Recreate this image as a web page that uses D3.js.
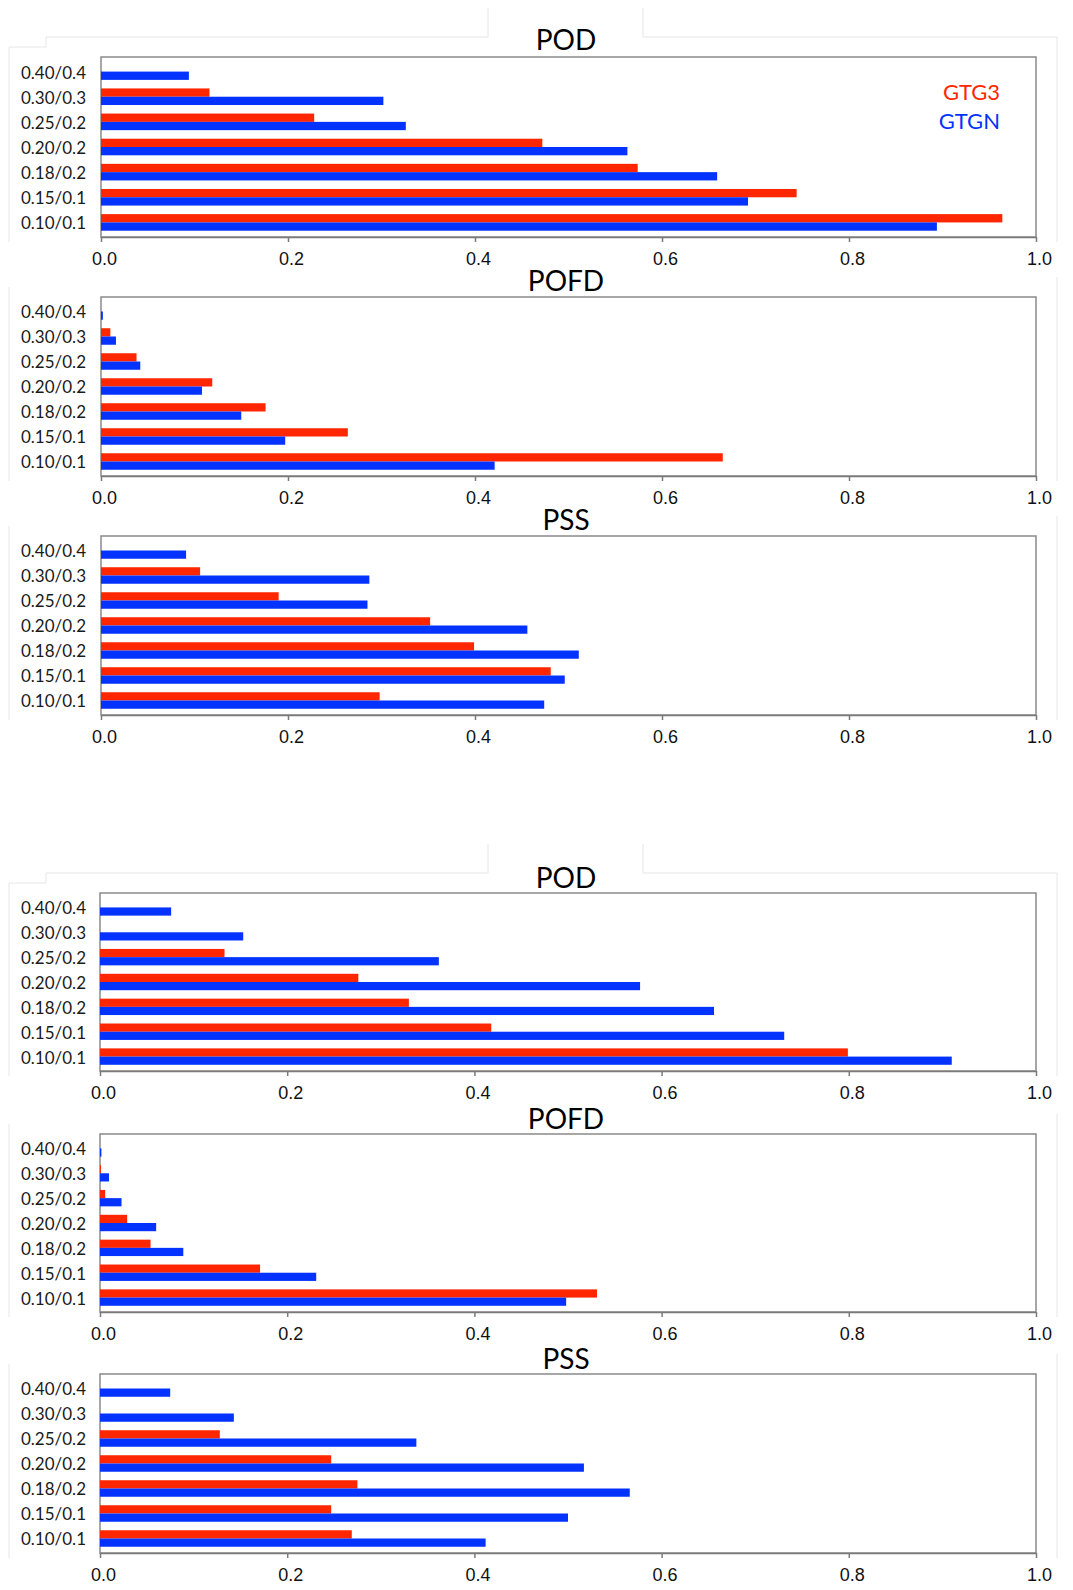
<!DOCTYPE html>
<html>
<head>
<meta charset="utf-8">
<script src="https://cdn.jsdelivr.net/npm/d3@7"></script>
<style>
  body { margin: 0; background: #fff; }
  svg { display: block; font-family: Lato, "Open Sans", sans-serif; }
  .axis path, .axis line { stroke: #7a7a7a; stroke-width: 1.5; }
  .axis text { font-size: 18px; fill: #111; }
</style>
</head>
<body>
<div id="chart"></div>
<script>
// categories top -> bottom
var categories = ["0.40/0.4", "0.30/0.3", "0.25/0.2", "0.20/0.2", "0.18/0.2", "0.15/0.1", "0.10/0.1"];
var tickValues = [0.0, 0.2, 0.4, 0.6, 0.8, 1.0];
var seriesNames = ["GTG3", "GTGN"];

// top group
var podG3A  = [0, 0.116, 0.228, 0.472, 0.574, 0.744, 0.964];
var podGNA  = [0.094, 0.302, 0.326, 0.563, 0.659, 0.692, 0.894];
var pofdG3A = [0, 0.010, 0.038, 0.119, 0.176, 0.264, 0.665];
var pofdGNA = [0.002, 0.016, 0.042, 0.108, 0.150, 0.197, 0.421];
var pssG3A  = [0, 0.106, 0.190, 0.352, 0.399, 0.481, 0.298];
var pssGNA  = [0.091, 0.287, 0.285, 0.456, 0.511, 0.496, 0.474];

// bottom group
var podG3B  = [0, 0, 0.133, 0.276, 0.330, 0.418, 0.799];
var podGNB  = [0.076, 0.153, 0.362, 0.577, 0.656, 0.731, 0.910];
var pofdG3B = [0, 0.001, 0.0055, 0.029, 0.054, 0.171, 0.531];
var pofdGNB = [0.0015, 0.0096, 0.023, 0.060, 0.089, 0.231, 0.498];
var pssG3B  = [0, 0, 0.128, 0.247, 0.275, 0.247, 0.269];
var pssGNB  = [0.075, 0.143, 0.338, 0.517, 0.566, 0.500, 0.412];

var red = "#ff2600", blue = "#0433ff";
var W = 1073, H = 1590;

// panel layout (top/bottom of plot box, title centre)
var panels = [
    {title: "POD",  top: 57,   bottom: 237,  titleY: 40,   left: 101, g3: podG3A,  gn: podGNA,  legend: true, tab: true},
    {title: "POFD", top: 297,  bottom: 476,  titleY: 281,  left: 101, g3: pofdG3A, gn: pofdGNA},
    {title: "PSS",  top: 536,  bottom: 715,  titleY: 520,  left: 101, g3: pssG3A,  gn: pssGNA},
    {title: "POD",  top: 893,  bottom: 1071, titleY: 878,  left: 100, g3: podG3B,  gn: podGNB,  tab: true},
    {title: "POFD", top: 1134, bottom: 1312, titleY: 1119, left: 100, g3: pofdG3B, gn: pofdGNB},
    {title: "PSS",  top: 1374, bottom: 1553, titleY: 1359, left: 100, g3: pssG3B,  gn: pssGNB}
];
var right = 1036;
var frameCol = "#e6e6e6";

var svg = d3.select("#chart").append("svg")
    .attr("width", W)
    .attr("height", H);

panels.forEach(function(p) {
    var g = svg.append("g");

    // faint frames left by the pasted chart areas
    var fr = g.append("g").attr("stroke", frameCol).attr("stroke-width", 1).attr("fill", "none");
    fr.append("line").attr("x1", 1057).attr("x2", 1057).attr("y1", p.top - 20).attr("y2", p.bottom + 5);
    fr.append("line").attr("x1", 9).attr("x2", 9).attr("y1", p.top - 10).attr("y2", p.bottom + 5);
    if (p.tab) {
        fr.append("path").attr("d", "M9," + (p.top - 10) + "H46V" + (p.top - 20) + "H488V" + (p.top - 49) +
            "M643," + (p.top - 49) + "V" + (p.top - 20) + "H1057");
    }

    var x = d3.scaleLinear().domain([0, 1]).range([p.left, right]);
    var y = d3.scaleBand().domain(categories).range([p.top, p.bottom])
        .paddingInner(0.34).paddingOuter(0.25);
    var ys = d3.scaleBand().domain(seriesNames).range([0, y.bandwidth()]);

    // plot box
    g.append("rect")
        .attr("x", p.left).attr("y", p.top)
        .attr("width", right - p.left).attr("height", p.bottom - p.top)
        .attr("fill", "#fff")
        .attr("stroke", "#8a8a8a")
        .attr("stroke-width", 1.5);

    var rows = categories.map(function(c, i) {
        return {cat: c, vals: [{s: "GTG3", v: p.g3[i], c: red}, {s: "GTGN", v: p.gn[i], c: blue}]};
    });

    g.selectAll("g.row").data(rows).enter().append("g")
        .attr("class", "row")
        .attr("transform", function(d) { return "translate(0," + y(d.cat) + ")"; })
        .selectAll("rect").data(function(d) { return d.vals.filter(function(e) { return e.v > 0; }); })
        .enter().append("rect")
        .attr("x", x(0))
        .attr("y", function(d) { return ys(d.s); })
        .attr("width", function(d) { return x(d.v) - x(0); })
        .attr("height", ys.bandwidth())
        .attr("fill", function(d) { return d.c; });

    // category labels
    g.selectAll("text.cat").data(categories).enter().append("text")
        .attr("class", "cat")
        .attr("x", 86)
        .attr("y", function(d) { return y(d) + y.bandwidth() / 2 + 1; })
        .attr("dy", "0.35em")
        .attr("text-anchor", "end")
        .attr("font-size", 17)
        .attr("fill", "#1a1a1a")
        .text(function(d) { return d; });

    // x axis
    var ax = g.append("g")
        .attr("class", "axis")
        .attr("transform", "translate(0," + p.bottom + ")")
        .call(d3.axisBottom(x).tickValues(tickValues).tickFormat(d3.format(".1f"))
            .tickSizeInner(5).tickSizeOuter(0).tickPadding(10));
    ax.selectAll("text").attr("dx", 3);

    // title
    g.append("text")
        .attr("x", 566)
        .attr("y", p.titleY)
        .attr("dy", "0.35em")
        .attr("text-anchor", "middle")
        .attr("font-size", 28)
        .attr("fill", "#000")
        .text(p.title);

    if (p.legend) {
        g.append("text")
            .attr("x", 1000).attr("y", 92).attr("dy", "0.35em")
            .attr("text-anchor", "end").attr("font-size", 22)
            .attr("fill", red).text("GTG3");
        g.append("text")
            .attr("x", 1000).attr("y", 121).attr("dy", "0.35em")
            .attr("text-anchor", "end").attr("font-size", 22)
            .attr("fill", blue).text("GTGN");
    }
});
</script>
</body>
</html>
